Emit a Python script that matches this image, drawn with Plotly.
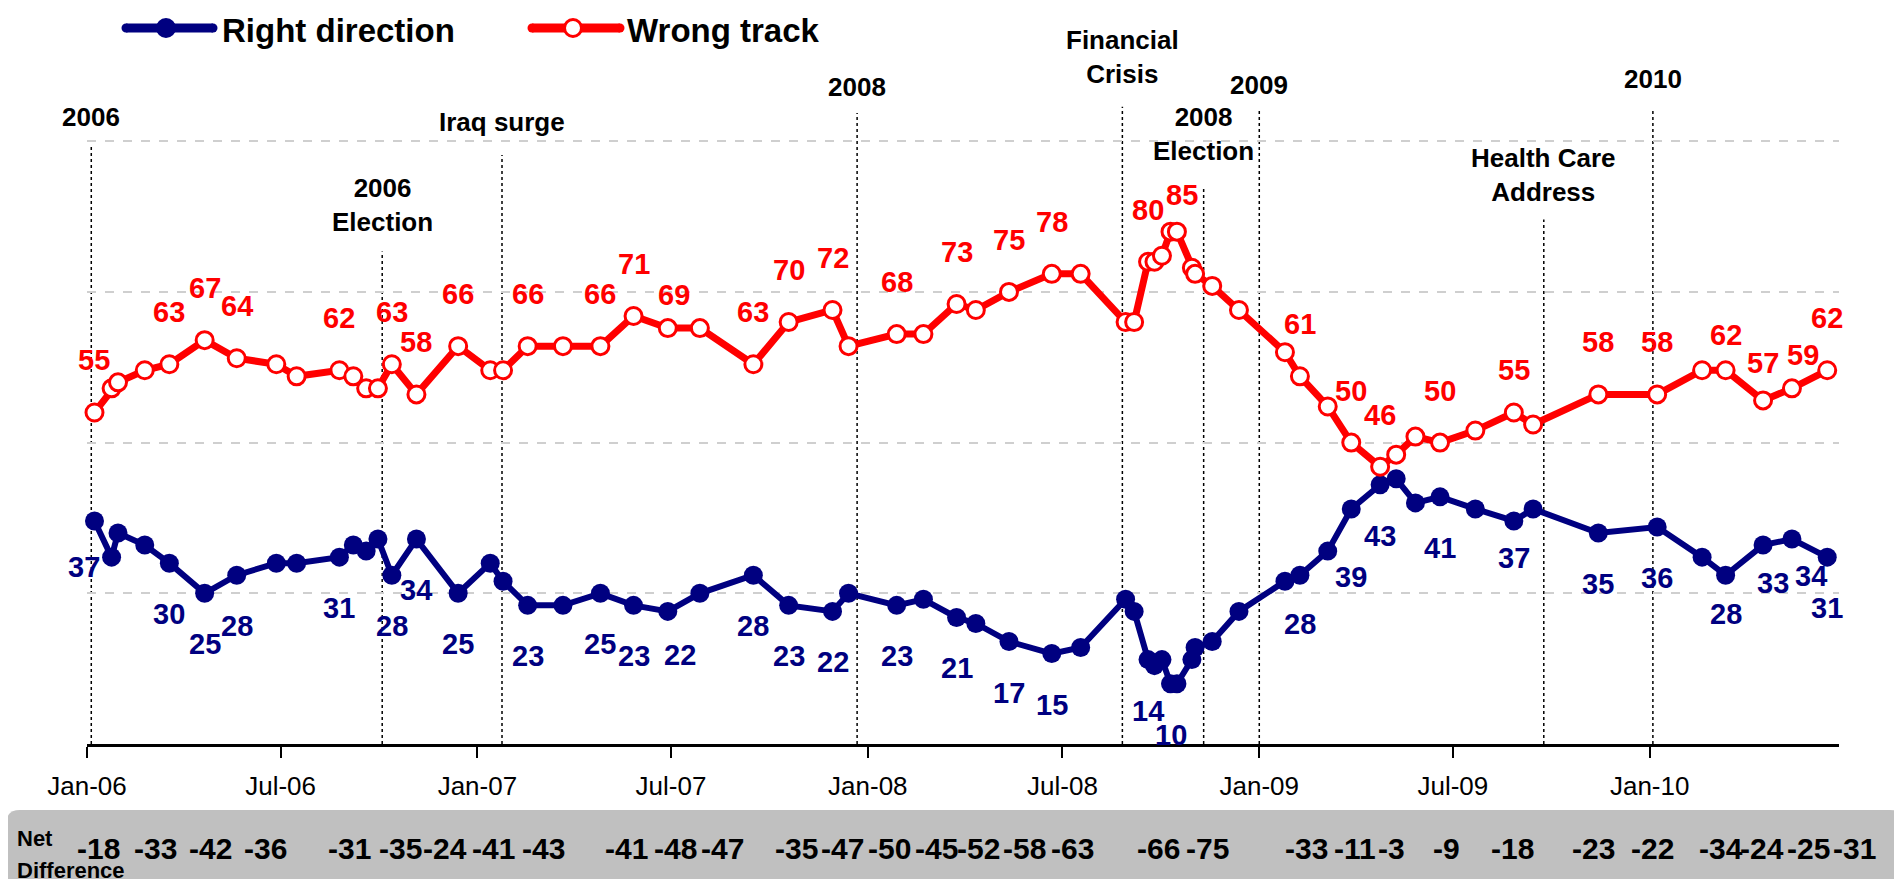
import plotly.graph_objects as go

# ---------------- data ----------------
dates = [
    "2006-01-08", "2006-01-24", "2006-01-30", "2006-02-24", "2006-03-19", "2006-04-21",
    "2006-05-21", "2006-06-27", "2006-07-16", "2006-08-25", "2006-09-07", "2006-09-19",
    "2006-09-30", "2006-10-13", "2006-11-05", "2006-12-14", "2007-01-13", "2007-01-25",
    "2007-02-17", "2007-03-22", "2007-04-26", "2007-05-27", "2007-06-28", "2007-07-28",
    "2007-09-16", "2007-10-19", "2007-11-29", "2007-12-14", "2008-01-28", "2008-02-22",
    "2008-03-24", "2008-04-11", "2008-05-12", "2008-06-21", "2008-07-18", "2008-08-29",
    "2008-09-06", "2008-09-19", "2008-09-25", "2008-10-02", "2008-10-10", "2008-10-16",
    "2008-10-30", "2008-11-02", "2008-11-18", "2008-12-13", "2009-01-25", "2009-02-08",
    "2009-03-06", "2009-03-28", "2009-04-24", "2009-05-09", "2009-05-27", "2009-06-19",
    "2009-07-22", "2009-08-27", "2009-09-14", "2009-11-14", "2010-01-08", "2010-02-19",
    "2010-03-13", "2010-04-17", "2010-05-14", "2010-06-16",
]
right_direction = [
    37, 31, 35, 33, 30, 25, 28, 30, 30, 31, 33, 32, 34, 28, 34, 25, 30, 27, 23, 23, 25, 23,
    22, 25, 28, 23, 22, 25, 23, 24, 21, 20, 17, 15, 16, 24, 22, 14, 13, 14, 10, 10, 14, 16,
    17, 22, 27, 28, 32, 39, 43, 44, 40, 41, 39, 37, 39, 35, 36, 31, 28, 33, 34, 31,
]
wrong_track = [
    55, 59, 60, 62, 63, 67, 64, 63, 61, 62, 61, 59, 59, 63, 58, 66, 62, 62, 66, 66, 66, 71,
    69, 69, 63, 70, 72, 66, 68, 68, 73, 72, 75, 78, 78, 70, 70, 80, 80, 81, 85, 85, 79, 78,
    76, 72, 65, 61, 56, 50, 46, 48, 51, 50, 52, 55, 53, 58, 58, 62, 62, 57, 59, 62,
]
# points that carry a value label (and a net difference entry)
labeled_idx = [0, 4, 5, 6, 9, 13, 14, 15, 18, 20, 21, 22, 24, 25, 26, 28, 30, 32, 33, 37,
               40, 47, 49, 50, 53, 55, 57, 58, 60, 61, 62, 63]

event_names = ["2006", "2006<br>Election", "Iraq surge", "2008", "Financial<br>Crisis",
               "2008<br>Election", "2009", "Health Care<br>Address", "2010"]
event_dates = ["2006-01-05", "2006-10-04", "2007-01-24", "2007-12-22", "2008-08-26",
               "2008-11-10", "2009-01-01", "2009-09-24", "2010-01-04"]

tick_vals = ["2006-01-01", "2006-07-01", "2007-01-01", "2007-07-01", "2008-01-01",
             "2008-07-01", "2009-01-01", "2009-07-01", "2010-01-01"]
tick_text = ["Jan-06", "Jul-06", "Jan-07", "Jul-07", "Jan-08", "Jul-08", "Jan-09",
             "Jul-09", "Jan-10"]

# ---------------- positions / styles ----------------
W, H = 1902, 879
ML, MR, MT, MB = 79, 71, 85, 143
PW, PH = W - ML - MR, H - MT - MB
Y_MAX = 108
AXIS_PX = H - MB


def px_x(px):
    return (px - ML) / PW


def px_y(py):
    return (AXIS_PX - py) / PH


FONT = "Liberation Sans, Arial, sans-serif"
NAVY = "#000080"
RED = "#FF0000"

event_line_top = [99.2, 81.7, 97.7, 104.7, 105.7, 92.5, 105.0, 87.0, 105.0]
event_label_py = [109, 197, 114, 79, 49, 126, 77, 167, 71]

red_dy = {22: 33, 40: 37, 55: 42, 60: 35, 61: 37, 62: 33}
red_dx = {22: 6, 40: 11, 62: 11}
blue_dy = {0: 46, 22: 44, 47: 49, 49: 68, 55: 37, 60: 39, 61: 38, 62: 37}
blue_dx = {0: -10, 22: 12, 61: 10, 62: 19}

net_x_px = [90, 147, 202, 257, 341, 392, 437, 485, 535, 618, 667, 714, 788, 834, 881, 928,
            970, 1017, 1064, 1150, 1199, 1298, 1347, 1383, 1438, 1504, 1585, 1644, 1713,
            1754, 1800, 1846]

fig = go.Figure()

fig.add_trace(go.Scatter(
    x=dates, y=right_direction, mode="lines+markers", name="Right direction",
    line=dict(color=NAVY, width=6),
    marker=dict(symbol="circle", size=19, color=NAVY),
    cliponaxis=False, showlegend=False,
))
fig.add_trace(go.Scatter(
    x=dates, y=wrong_track, mode="lines+markers", name="Wrong track",
    line=dict(color=RED, width=7),
    marker=dict(symbol="circle", size=17, color="white", line=dict(color=RED, width=3)),
    cliponaxis=False, showlegend=False,
))

shapes = []
annotations = []

# event lines + labels
for name, d, top, lpy in zip(event_names, event_dates, event_line_top, event_label_py):
    shapes.append(dict(type="line", xref="x", yref="y", x0=d, x1=d, y0=0, y1=top,
                       line=dict(color="black", width=1.5, dash="dot"), layer="below"))
    annotations.append(dict(x=d, y=px_y(lpy), xref="x", yref="paper", text=name,
                            showarrow=False, xanchor="center", yanchor="middle",
                            font=dict(family=FONT, size=26, color="black", weight="bold")))

# value labels
for i in labeled_idx:
    annotations.append(dict(x=dates[i], y=wrong_track[i], xref="x", yref="y",
                            text=str(wrong_track[i]), showarrow=False,
                            xanchor="center", yanchor="middle",
                            yshift=red_dy.get(i, 52), xshift=red_dx.get(i, 0),
                            font=dict(family=FONT, size=29, color=RED, weight="bold")))
    annotations.append(dict(x=dates[i], y=right_direction[i], xref="x", yref="y",
                            text=str(right_direction[i]), showarrow=False,
                            xanchor="center", yanchor="middle",
                            yshift=-blue_dy.get(i, 51), xshift=blue_dx.get(i, 0),
                            font=dict(family=FONT, size=29, color=NAVY, weight="bold")))

# net difference band
band_top, r, band_right = 802, 14, 1896
path = (f"M{px_x(-2)},{px_y(H + 5)} L{px_x(-2)},{px_y(band_top + r)} "
        f"Q{px_x(-2)},{px_y(band_top)} {px_x(-2 + r)},{px_y(band_top)} "
        f"L{px_x(band_right - r)},{px_y(band_top)} "
        f"Q{px_x(band_right)},{px_y(band_top)} {px_x(band_right)},{px_y(band_top + r)} "
        f"L{px_x(band_right)},{px_y(H + 5)} Z")
shapes.append(dict(type="path", xref="paper", yref="paper", path=path,
                   fillcolor="#C0C0C0", line=dict(width=0), layer="below"))

annotations.append(dict(x=px_x(7), y=px_y(830), xref="paper", yref="paper", text="Net",
                        showarrow=False, xanchor="left", yanchor="middle",
                        font=dict(family=FONT, size=22, color="black", weight="bold")))
annotations.append(dict(x=px_x(7), y=px_y(862), xref="paper", yref="paper",
                        text="Difference", showarrow=False, xanchor="left", yanchor="middle",
                        font=dict(family=FONT, size=22, color="black", weight="bold")))
for i, xp in zip(labeled_idx, net_x_px):
    annotations.append(dict(x=px_x(xp), y=px_y(840), xref="paper", yref="paper",
                            text=str(right_direction[i] - wrong_track[i]), showarrow=False,
                            xanchor="center", yanchor="middle",
                            font=dict(family=FONT, size=30, color="black", weight="bold")))

# manual legend
legend_items = [("Right direction", NAVY, NAVY, 118, 205, 158, 212),
                ("Wrong track", RED, "white", 524, 612, 565, 617)]
LEG_Y = 20
for text, col, fill, x0, x1, xm, xt in legend_items:
    shapes.append(dict(type="line", xref="paper", yref="paper", x0=px_x(x0), x1=px_x(x1),
                       y0=px_y(LEG_Y), y1=px_y(LEG_Y), line=dict(color=col, width=9)))
    for xc in (x0, x1):
        shapes.append(dict(type="circle", xref="paper", yref="paper", xsizemode="pixel",
                           ysizemode="pixel", xanchor=px_x(xc), yanchor=px_y(LEG_Y),
                           x0=-4.5, x1=4.5, y0=-4.5, y1=4.5, fillcolor=col,
                           line=dict(width=0)))
    shapes.append(dict(type="circle", xref="paper", yref="paper", xsizemode="pixel",
                       ysizemode="pixel", xanchor=px_x(xm), yanchor=px_y(LEG_Y),
                       x0=-8.5, x1=8.5, y0=-8.5, y1=8.5, fillcolor=fill,
                       line=dict(color=col, width=3)))
    annotations.append(dict(x=px_x(xt), y=px_y(LEG_Y + 3), xref="paper", yref="paper",
                            text=text, showarrow=False, xanchor="left", yanchor="middle",
                            font=dict(family=FONT, size=33, color="black", weight="bold")))

fig.update_layout(
    width=W, height=H,
    margin=dict(l=ML, r=MR, t=MT, b=MB, pad=0),
    paper_bgcolor="white", plot_bgcolor="white",
    shapes=shapes, annotations=annotations,
    showlegend=False,
    xaxis=dict(type="date", range=["2006-01-01", "2010-06-27"], tickvals=tick_vals,
               ticktext=tick_text, ticks="outside", ticklen=11, tickwidth=2,
               tickcolor="black", showline=True, linecolor="black", linewidth=2.5,
               showgrid=False, zeroline=False, ticklabelstandoff=6,
               tickfont=dict(family=FONT, size=26, color="black")),
    yaxis=dict(range=[0, Y_MAX], tickvals=[25, 50, 75, 100], showticklabels=False,
               showgrid=True, gridcolor="#CFCFCF", gridwidth=1.5, griddash="dash",
               zeroline=False, showline=False, ticks=""),
)

fig.write_html("out.html")
